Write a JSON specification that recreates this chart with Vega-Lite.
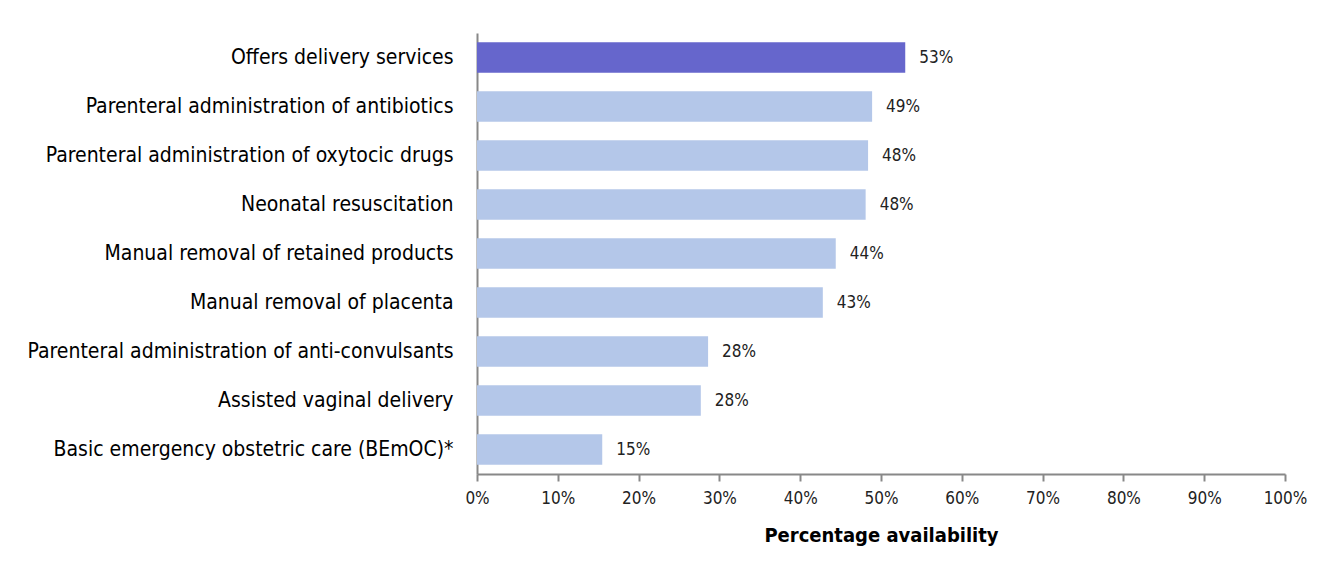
{
  "$schema": "https://vega.github.io/schema/vega-lite/v6.json",
  "width": 808,
  "height": 441,
  "autosize": {"type": "none"},
  "padding": {"left": 477, "top": 33, "right": 51, "bottom": 106},
  "background": "white",
  "data": {
    "values": [
      {"item": "Offers delivery services", "value": 0.53, "label": "53%", "highlight": "yes"},
      {"item": "Parenteral administration of antibiotics", "value": 0.489, "label": "49%", "highlight": "no"},
      {"item": "Parenteral administration of oxytocic drugs", "value": 0.484, "label": "48%", "highlight": "no"},
      {"item": "Neonatal resuscitation", "value": 0.481, "label": "48%", "highlight": "no"},
      {"item": "Manual removal of retained products", "value": 0.444, "label": "44%", "highlight": "no"},
      {"item": "Manual removal of placenta", "value": 0.428, "label": "43%", "highlight": "no"},
      {"item": "Parenteral administration of anti-convulsants", "value": 0.286, "label": "28%", "highlight": "no"},
      {"item": "Assisted vaginal delivery", "value": 0.277, "label": "28%", "highlight": "no"},
      {"item": "Basic emergency obstetric care (BEmOC)*", "value": 0.155, "label": "15%", "highlight": "no"}
    ]
  },
  "encoding": {
    "y": {
      "field": "item", "type": "nominal", "sort": null,
      "scale": {"paddingInner": 0.38, "paddingOuter": 0.19},
      "axis": {"title": null, "ticks": false, "labelPadding": 24, "labelFontSize": 21, "labelFont": "DejaVu Sans Condensed", "labelColor": "#000000", "domainColor": "#888888", "domainWidth": 2, "labelLimit": 500}
    },
    "x": {
      "field": "value", "type": "quantitative",
      "scale": {"domain": [0, 1], "nice": false},
      "axis": {"format": ".0%", "values": [0,0.1,0.2,0.3,0.4,0.5,0.6,0.7,0.8,0.9,1], "labelFlush": false, "grid": false, "title": "Percentage availability", "titleFont": "DejaVu Sans Condensed", "titleFontSize": 20, "titleFontWeight": "bold", "titleColor": "#000000", "titlePadding": 19, "labelFont": "DejaVu Sans Condensed", "labelFontSize": 17, "labelColor": "#222222", "labelPadding": 9, "tickSize": 7, "tickColor": "#888888", "domainColor": "#888888", "domainWidth": 2, "tickWidth": 2}
    }
  },
  "layer": [
    {
      "mark": {"type": "bar"},
      "encoding": {
        "color": {"field": "highlight", "type": "nominal", "scale": {"domain": ["yes", "no"], "range": ["#6666CC", "#B4C7E9"]}, "legend": null}
      }
    },
    {
      "mark": {"type": "text", "align": "left", "dx": 14, "font": "DejaVu Sans Condensed", "fontSize": 17, "color": "#222222"},
      "encoding": {"text": {"field": "label"}}
    }
  ],
  "config": {"view": {"stroke": null}}
}
